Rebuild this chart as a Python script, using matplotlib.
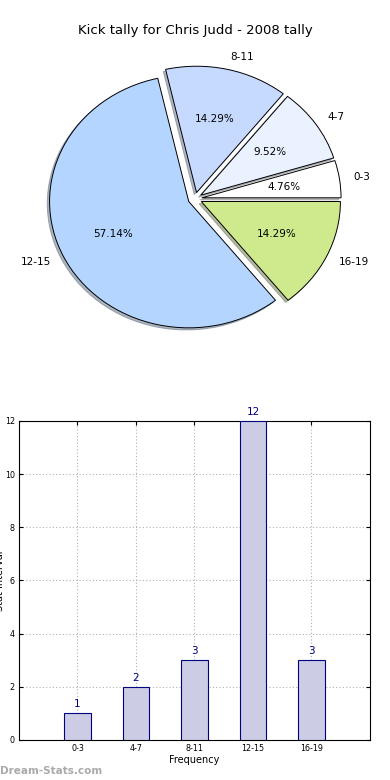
import matplotlib
matplotlib.use('Agg')
import matplotlib.pyplot as plt

# Kick tally data
labels = ['0-3', '4-7', '8-11', '12-15', '16-19']
counts = [1, 2, 3, 12, 3]
pie_colors = ['#ffffff', '#eaf1ff', '#c6d9ff', '#b4d5ff', '#cfea8c']
explode = [0.05, 0.05, 0.05, 0.05, 0.05]

fig = plt.figure(figsize=(3.9, 7.8), dpi=100)

# Pie (elliptical, like the old matplotlib output)
ax1 = fig.add_axes([0.054, 0.5427, 0.892, 0.405])
wedges, texts, autotexts = ax1.pie(counts, labels=labels, colors=pie_colors,
                                   explode=explode, autopct='%1.2f%%',
                                   shadow=dict(ox=-0.012, oy=-0.012, shade=0.5),
                                   startangle=0,
                                   wedgeprops=dict(edgecolor='black', linewidth=0.7),
                                   textprops=dict(fontsize=7.5))
ax1.set_aspect('auto')
ax1.set_xlim(-1.25, 1.25)
ax1.set_ylim(-1.25, 1.25)
ax1.set_title('Kick tally for Chris Judd - 2008 tally', fontsize=9.5, pad=5)

# Bars
ax2 = fig.add_axes([0.0487, 0.0513, 0.9, 0.409])
x = range(len(labels))
ax2.bar(x, counts, width=0.45, color='#ccccE5', edgecolor='navy', linewidth=0.8, zorder=3)
for xi, c in zip(x, counts):
    ax2.text(xi, c + 0.15, str(c), ha='center', va='bottom', color='navy', fontsize=7.5)
ax2.set_xlim(-1, 5)
ax2.set_ylim(0, 12)
ax2.set_yticks(range(0, 13, 2))
ax2.set_xticks(list(x))
ax2.set_xticklabels(labels)
ax2.tick_params(labelsize=5.8, direction='in', top=True, right=True, length=3, pad=3)
ax2.grid(True, ls=(0, (1, 2)), color='#b0b0b0', lw=0.8)
ax2.set_xlabel('Frequency', fontsize=7, labelpad=1)
ax2.set_ylabel('Stat Interval', fontsize=7)
ax2.yaxis.set_label_coords(-0.04, 0.5)

fig.text(0.0, 0.008, 'Dream-Stats.com', fontsize=7.5, color='#aaaaaa', fontweight='bold')

plt.savefig('out.png', dpi=100)
